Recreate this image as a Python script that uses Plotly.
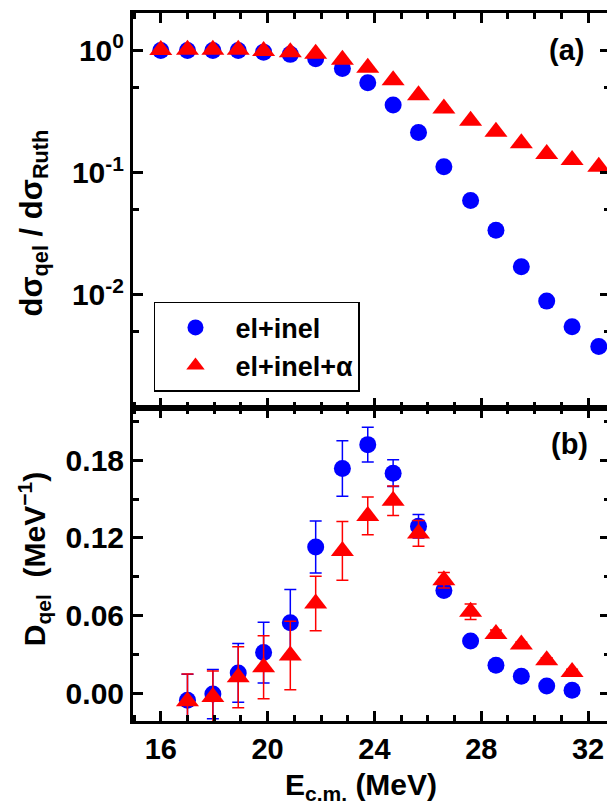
import plotly.graph_objects as go
from plotly.subplots import make_subplots

# ---- data ----
e_cm = [16.0, 17.0, 17.95, 18.9, 19.85, 20.85, 21.8, 22.8, 23.75, 24.7,
        25.65, 26.6, 27.6, 28.55, 29.5, 30.45, 31.4, 32.4]
ratio_el_inel = [1.0, 1.0, 1.0, 1.0, 0.97, 0.93, 0.855, 0.713, 0.546, 0.359,
                 0.213, 0.112, 0.0593, 0.0338, 0.0170, 0.0089, 0.0055, 0.00378]
ratio_el_inel_a = [1.01, 1.013, 1.013, 1.013, 0.989, 0.97, 0.94, 0.84, 0.723, 0.57,
                   0.43, 0.335, 0.266, 0.216, 0.174, 0.142, 0.127, 0.112]

e_cm_d = [17.0, 17.95, 18.9, 19.85, 20.85, 21.8, 22.8, 23.75, 24.7, 25.65,
          26.6, 27.6, 28.55, 29.5, 30.45, 31.4]
d_el_inel = [-0.0052, -0.0005, 0.0158, 0.0315, 0.0546, 0.113, 0.1735, 0.192, 0.170, 0.129,
             0.0795, 0.0405, 0.0218, 0.0133, 0.0058, 0.0025]
d_el_inel_err = [0.020, 0.019, 0.0227, 0.0235, 0.0256, 0.020, 0.0214, 0.0135, 0.0104, 0.009,
                 0.003, 0.0, 0.0, 0.0, 0.0, 0.0]
d_el_inel_a = [-0.006, -0.0028, 0.0125, 0.0202, 0.0292, 0.0694, 0.110, 0.137, 0.1487, 0.1235,
               0.0874, 0.063, 0.0459, 0.0377, 0.0256, 0.0166]
d_el_inel_a_err = [0.021, 0.020, 0.0235, 0.0243, 0.0264, 0.021, 0.0227, 0.0145, 0.0114, 0.010,
                   0.006, 0.006, 0.003, 0.002, 0.002, 0.002]

x_ticks = [16, 20, 24, 28, 32]
y1_ticks = [1, 0.1, 0.01]
y1_ticktext = ["10<sup>0</sup>", "10<sup>-1</sup>", "10<sup>-2</sup>"]
y1_minor = [0.5, 0.05, 0.005]
y2_ticks = [0.0, 0.06, 0.12, 0.18]
y2_ticktext = ["0.00", "0.06", "0.12", "0.18"]
y2_minor = [0.03, 0.09, 0.15, 0.21]

BLUE = "#0000FF"
RED = "#FF0000"
FONT = "Liberation Sans"

fig = make_subplots(rows=2, cols=1, shared_xaxes=True, vertical_spacing=0,
                    row_heights=[0.5584, 0.4416])

fig.add_trace(go.Scatter(x=e_cm, y=ratio_el_inel, mode="markers", name="el+inel",
                         marker=dict(symbol="circle", size=17, color=BLUE)), row=1, col=1)
fig.add_trace(go.Scatter(x=e_cm, y=ratio_el_inel_a, mode="markers", name="el+inel+α",
                         marker=dict(symbol="triangle-up", size=20, color=RED)), row=1, col=1)

fig.add_trace(go.Scatter(x=e_cm_d, y=d_el_inel, mode="markers", showlegend=False,
                         marker=dict(symbol="circle", size=17, color=BLUE),
                         error_y=dict(type="data", array=d_el_inel_err, color=BLUE,
                                      thickness=1.5, width=6)), row=2, col=1)
fig.add_trace(go.Scatter(x=e_cm_d, y=d_el_inel_a, mode="markers", showlegend=False,
                         marker=dict(symbol="triangle-up", size=20, color=RED),
                         error_y=dict(type="data", array=d_el_inel_a_err, color=RED,
                                      thickness=1.5, width=6)), row=2, col=1)

axis_common = dict(showline=True, linewidth=3, linecolor="black", mirror="ticks",
                   ticks="inside", ticklen=10, tickwidth=2.5, tickcolor="black",
                   showgrid=False, zeroline=False)
minor_common = dict(ticks="inside", ticklen=6, tickwidth=2.5, tickcolor="black")

fig.update_xaxes(**axis_common, range=[14.96, 32.82], tickvals=x_ticks,
                 tickfont=dict(family=FONT, size=29, color="black", weight="bold"),
                 minor=dict(dtick=1, tick0=0, **minor_common))
fig.update_xaxes(showticklabels=False, row=1, col=1)

ytickfont = dict(family=FONT, size=30, color="black", weight="bold")
fig.update_yaxes(**axis_common, tickfont=ytickfont, row=1, col=1)
fig.update_yaxes(type="log", range=[-2.928, 0.307], tickvals=y1_ticks, ticktext=y1_ticktext,
                 minor=dict(tickvals=y1_minor, **minor_common), row=1, col=1)
fig.update_yaxes(**axis_common, tickfont=ytickfont, row=2, col=1)
fig.update_yaxes(range=[-0.0213, 0.22], tickvals=y2_ticks, ticktext=y2_ticktext,
                 minor=dict(tickvals=y2_minor, **minor_common), row=2, col=1)

title_font = dict(family=FONT, size=31, color="black", weight="bold")
fig.add_annotation(text="dσ<sub>qel</sub> / dσ<sub>Ruth</sub>", xref="paper", yref="paper",
                   x=-0.207, y=0.703, xanchor="center", yanchor="middle", textangle=-90,
                   showarrow=False, font=title_font)
fig.add_annotation(text="D<sub>qel</sub>  (MeV<sup>−1</sup>)", xref="paper", yref="paper",
                   x=-0.207, y=0.229, xanchor="center", yanchor="middle", textangle=-90,
                   showarrow=False, font=dict(family=FONT, size=30, color="black",
                                              weight="bold"))
fig.add_annotation(text="E<sub>c.m.</sub> (MeV)", xref="paper", yref="paper",
                   x=0.478, y=-0.093, xanchor="center", yanchor="middle",
                   showarrow=False, font=dict(family=FONT, size=30, color="black",
                                              weight="bold"))
label_font = dict(family=FONT, size=29, color="black", weight="bold")
fig.add_annotation(text="(a)", xref="paper", yref="paper", x=0.908, y=0.948,
                   xanchor="center", yanchor="middle", showarrow=False, font=label_font)
fig.add_annotation(text="(b)", xref="paper", yref="paper", x=0.916, y=0.391,
                   xanchor="center", yanchor="middle", showarrow=False, font=label_font)

# page body has an 8px default margin, so the plot area is placed 8px up/left
fig.update_layout(
    width=615, height=809,
    margin=dict(l=125, r=13, t=2, b=96),
    plot_bgcolor="white", paper_bgcolor="white",
    legend=dict(x=0.044, y=0.592, xanchor="left", yanchor="top",
                bordercolor="black", borderwidth=1.5, bgcolor="white",
                itemwidth=70,
                font=dict(family=FONT, size=27, color="black", weight="bold")),
)

fig.write_html("out.html")
